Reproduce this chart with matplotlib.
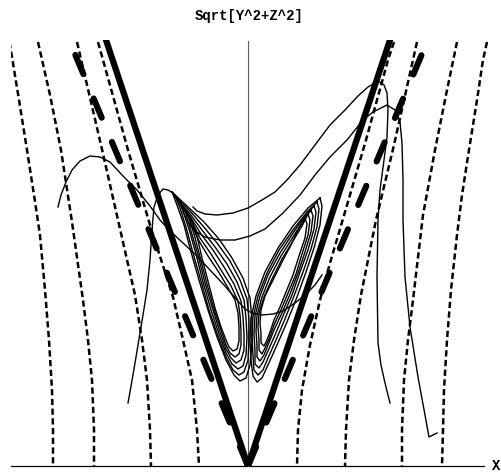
import matplotlib
matplotlib.use('Agg')
import matplotlib.pyplot as plt
from matplotlib.patches import Rectangle
import numpy as np

plt.rcParams['lines.scale_dashes'] = False

# --- data: X horizontal, R = Sqrt[Y^2+Z^2] vertical ---------------------
# thick solid and thick dashed V (vertex at origin, ends beyond plot top)
v_solid_x = [-15.0, 0.0, 15.0]
v_solid_r = [45.0, 0.0, 45.0]
v_dash_left_x = [0.0, -18.9]
v_dash_left_r = [0.0, 45.0]
v_dash_right_x = [0.0, 19.0]
v_dash_right_r = [0.0, 45.0]

# thin dashed level curves, left side (outer -> inner)
lev_l1_x = [-23.85, -23.6, -22.9, -22.1, -21.4, -20.8, -20.3, -19.9, -19.6, -19.5, -19.5]
lev_l1_r = [42.4, 40.9, 36.6, 31.6, 27.1, 23.1, 17.6, 12.6, 7.6, 3.6, 0.0]
lev_l2_x = [-21.0, -19.8, -18.7, -17.6, -16.5, -16.0, -15.6, -15.4, -15.4]
lev_l2_r = [42.4, 37.1, 31.6, 24.4, 16.6, 12.6, 8.6, 3.6, 0.0]
lev_l3_x = [-17.1, -14.7, -13.0, -11.3, -10.6, -10.1, -9.8, -9.7]
lev_l3_r = [42.4, 32.1, 24.6, 17.1, 12.6, 8.6, 3.6, 0.0]
lev_l4_x = [-15.0, -12.0, -9.8, -7.5, -6.5, -5.6, -5.1, -4.9]
lev_l4_r = [42.4, 31.6, 24.1, 16.9, 12.6, 8.6, 3.6, 0.0]
# right side (inner -> outer)
lev_r1_x = [14.6, 14.0, 11.8, 9.7, 8.2, 7.2, 6.2, 5.4, 5.0, 4.9]
lev_r1_r = [42.4, 40.6, 32.6, 25.4, 20.3, 16.6, 12.1, 7.6, 3.6, 0.0]
lev_r2_x = [16.9, 14.6, 12.8, 11.3, 10.6, 10.1, 9.8, 9.7]
lev_r2_r = [42.4, 32.1, 24.6, 17.1, 12.6, 8.6, 3.6, 0.0]
lev_r3_x = [20.9, 19.8, 18.7, 17.5, 16.5, 16.0, 15.6, 15.4, 15.4]
lev_r3_r = [42.4, 37.1, 31.6, 25.1, 16.6, 12.6, 8.6, 3.6, 0.0]
lev_r4_x = [23.9, 23.5, 22.9, 22.1, 21.4, 20.9, 20.3, 19.9, 19.6, 19.5, 19.4]
lev_r4_r = [42.4, 40.6, 36.6, 31.6, 27.1, 23.1, 17.6, 12.6, 7.6, 3.6, 0.0]

# trajectories
traj_a_x = [-19.0, -18.7, -18.2, -17.6, -16.8, -15.8, -14.8, -13.8, -12.5, -11.1, -9.8, -8.8,
            -7.8, -6.5, -5.1, -3.8, -2.4, -1.1, -0.3, 0.4, 1.4, 2.5, 3.5, 4.7, 5.7, 6.7, 7.4]
traj_a_r = [25.9, 27.1, 28.4, 29.6, 30.5, 31.0, 30.9, 30.4, 29.0, 27.6, 26.0, 24.6,
            23.5, 22.3, 21.0, 19.6, 18.1, 16.6, 15.7, 15.3, 15.1, 15.2, 15.5, 16.3, 17.1, 18.1, 19.1]
traj_b_x = [-12.0, -11.5, -11.0, -10.5, -10.1, -9.8, -9.6, -9.4, -9.0, -8.5, -8.0, -7.5, -7.0, -6.4]
traj_b_r = [6.3, 9.1, 12.1, 15.1, 17.6, 20.6, 23.6, 25.9, 27.1, 27.7, 27.6, 27.3, 26.7, 25.6]
traj_c_x = [-5.5, -5.1, -4.3, -3.1, -1.5, 0.0, 1.4, 2.7, 3.9, 5.2, 6.7, 8.2, 9.7, 11.0, 12.0,
            12.7, 13.2, 13.6, 13.9, 14.0, 13.9, 13.6, 13.2, 13.0, 12.9, 13.0, 13.3, 13.7, 14.2]
traj_c_r = [25.9, 25.5, 25.2, 25.1, 25.3, 25.8, 26.6, 27.4, 28.6, 30.1, 32.1, 34.1, 35.6, 37.0, 37.9,
            38.3, 38.4, 38.1, 37.3, 35.6, 32.9, 30.6, 27.6, 24.6, 18.9, 12.3, 10.1, 8.3, 6.3]
traj_d_x = [-6.5, -6.0, -5.3, -4.3, -2.8, -1.3, 0.2, 1.7, 3.5, 5.2, 6.7, 8.2, 9.9, 11.5, 12.5,
            13.9, 14.7, 15.2, 15.4, 15.5, 15.5, 15.7, 16.2, 17.0, 17.7, 18.1, 18.9]
traj_d_r = [25.4, 24.4, 23.5, 22.9, 22.6, 22.6, 23.0, 23.7, 25.3, 27.1, 29.1, 30.9, 32.6, 34.6, 35.4,
            36.1, 35.6, 34.4, 32.3, 28.6, 24.6, 18.9, 13.9, 8.9, 5.1, 2.9, 3.3]

# loops of the left wing (outer -> inner)
wing_l_x = [
    [-7.6, -7.1, -6.4, -5.7, -4.9, -4.0, -3.1, -2.2, -1.4, -0.8, -0.2, 0.2, 0.4, 0.4, 0.2,
     -0.5, -1.6, -2.9, -4.4, -6.0, -7.6],
    [-7.3, -6.8, -6.2, -5.5, -4.7, -3.9, -3.0, -2.2, -1.5, -0.9, -0.4, 0.0, 0.1, 0.1, -0.1,
     -0.8, -1.8, -3.1, -4.5, -5.9, -7.3],
    [-7.0, -6.5, -5.9, -5.2, -4.5, -3.7, -2.9, -2.2, -1.6, -1.0, -0.5, -0.2, -0.1, -0.2, -0.4,
     -1.1, -2.1, -3.3, -4.6, -5.8, -7.0],
    [-6.7, -6.2, -5.7, -5.0, -4.3, -3.5, -2.8, -2.2, -1.7, -1.2, -0.7, -0.4, -0.4, -0.5, -0.7,
     -1.4, -2.4, -3.5, -4.7, -5.7, -6.7],
    [-6.4, -5.9, -5.4, -4.8, -4.1, -3.4, -2.7, -2.2, -1.8, -1.3, -0.9, -0.7, -0.7, -0.8, -1.0,
     -1.7, -2.7, -3.7, -4.8, -5.6, -6.4],
    [-6.1, -5.6, -5.1, -4.6, -3.9, -3.3, -2.7, -2.2, -1.9, -1.5, -1.1, -0.9, -0.9, -1.0, -1.3,
     -2.1, -3.0, -4.0, -4.9, -5.6, -6.1],
]
wing_l_r = [
    [27.4, 26.1, 24.1, 21.4, 18.6, 15.6, 12.9, 10.6, 9.1, 8.5, 8.8, 10.1, 12.3, 14.6, 16.8,
     18.8, 20.8, 22.7, 24.4, 25.9, 27.4],
    [27.0, 25.8, 23.9, 21.3, 18.5, 15.6, 13.0, 10.9, 9.6, 9.1, 9.4, 10.6, 12.6, 14.7, 16.7,
     18.6, 20.5, 22.3, 24.0, 25.6, 27.0],
    [26.6, 25.5, 23.7, 21.2, 18.4, 15.6, 13.2, 11.3, 10.2, 9.7, 10.0, 11.1, 12.9, 14.8, 16.6,
     18.4, 20.2, 21.9, 23.6, 25.2, 26.6],
    [26.2, 25.2, 23.5, 21.1, 18.3, 15.6, 13.4, 11.7, 10.8, 10.3, 10.6, 11.6, 13.2, 14.9, 16.5,
     18.2, 19.9, 21.6, 23.2, 24.8, 26.2],
    [25.8, 24.8, 23.2, 20.9, 18.2, 15.7, 13.6, 12.1, 11.3, 10.9, 11.2, 12.1, 13.6, 15.1, 16.5,
     18.0, 19.6, 21.2, 22.8, 24.4, 25.8],
    [25.4, 24.5, 23.0, 20.8, 18.1, 15.8, 13.9, 12.6, 11.9, 11.5, 11.7, 12.5, 13.9, 15.3, 16.6,
     18.0, 19.5, 21.0, 22.5, 24.0, 25.4],
]
# loops of the right wing (outer -> inner)
wing_r_x = [
    [7.2, 7.4, 7.2, 6.6, 5.8, 4.9, 3.9, 2.9, 2.0, 1.4, 0.9, 0.5, 0.3, 0.2, 0.3, 0.8, 1.7,
     3.0, 4.5, 6.0, 7.2],
    [6.9, 7.1, 6.9, 6.3, 5.5, 4.6, 3.7, 2.8, 2.0, 1.5, 1.0, 0.6, 0.5, 0.4, 0.5, 1.0, 1.9,
     3.1, 4.5, 5.9, 6.9],
    [6.6, 6.8, 6.6, 6.0, 5.2, 4.4, 3.5, 2.7, 2.0, 1.5, 1.1, 0.7, 0.7, 0.6, 0.7, 1.2, 2.0,
     3.2, 4.5, 5.7, 6.6],
    [6.3, 6.5, 6.3, 5.7, 5.0, 4.2, 3.4, 2.6, 2.0, 1.6, 1.2, 0.9, 0.9, 0.8, 0.9, 1.4, 2.2,
     3.3, 4.5, 5.5, 6.3],
    [6.0, 6.2, 6.0, 5.4, 4.8, 4.0, 3.3, 2.6, 2.1, 1.7, 1.4, 1.1, 1.1, 1.0, 1.1, 1.6, 2.4,
     3.4, 4.5, 5.4, 6.0],
    [5.7, 5.9, 5.7, 5.1, 4.5, 3.8, 3.2, 2.6, 2.2, 1.9, 1.6, 1.3, 1.3, 1.2, 1.3, 1.7, 2.5,
     3.4, 4.3, 5.0, 5.7],
]
wing_r_r = [
    [26.8, 26.0, 24.1, 21.8, 19.4, 16.9, 14.4, 12.1, 10.1, 8.8, 8.4, 9.0, 10.6, 12.6, 14.8,
     17.0, 19.4, 21.8, 24.0, 25.8, 26.8],
    [26.4, 25.7, 23.9, 21.7, 19.4, 17.0, 14.7, 12.6, 10.8, 9.6, 9.1, 9.6, 11.0, 12.9, 14.9,
     17.0, 19.3, 21.6, 23.6, 25.4, 26.4],
    [26.0, 25.4, 23.7, 21.6, 19.4, 17.1, 15.0, 13.1, 11.5, 10.4, 9.8, 10.2, 11.5, 13.2, 15.0,
     17.0, 19.1, 21.3, 23.3, 25.0, 26.0],
    [25.6, 25.0, 23.4, 21.4, 19.3, 17.2, 15.3, 13.6, 12.1, 11.1, 10.5, 10.9, 12.1, 13.5, 15.1,
     16.9, 18.9, 21.0, 22.9, 24.5, 25.6],
    [25.2, 24.6, 23.1, 21.2, 19.2, 17.3, 15.6, 14.1, 12.7, 11.8, 11.2, 11.6, 12.6, 13.9, 15.3,
     16.9, 18.7, 20.7, 22.5, 24.0, 25.2],
    [24.8, 24.2, 22.8, 21.0, 19.1, 17.4, 15.9, 14.6, 13.4, 12.6, 12.0, 12.3, 13.2, 14.3, 15.6,
     17.0, 18.6, 20.4, 22.1, 23.6, 24.8],
]

# --- figure --------------------------------------------------------------
fig = plt.figure(figsize=(5.01, 4.75), dpi=100)
ax = fig.add_axes([0, 0, 1, 1])
ax.set_xlim(-24.8, 25.3)
ax.set_ylim(-0.9, 46.6)
ax.axis('off')

clip = Rectangle((-23.7, 0.0), 47.7, 42.6, transform=ax.transData)


def draw(x, r, **kw):
    line, = ax.plot(x, r, color='black', **kw)
    line.set_clip_path(clip)
    return line


# axes
ax.plot([-23.7, 23.6], [0, 0], color='black', lw=0.9, zorder=1)
ax.plot([0, 0], [0, 42.5], color='0.35', lw=0.8, zorder=1)
ax.text(24.4, 0.0, 'X', fontsize=10, family='Liberation Mono', weight='bold',
        ha='left', va='center')

# thin dashed level curves
thin_dash = dict(lw=1.8, dashes=(4.5, 2.5), dash_capstyle='butt', zorder=2)
for x, r in [(lev_l1_x, lev_l1_r), (lev_l2_x, lev_l2_r), (lev_l3_x, lev_l3_r),
             (lev_l4_x, lev_l4_r), (lev_r1_x, lev_r1_r), (lev_r2_x, lev_r2_r),
             (lev_r3_x, lev_r3_r), (lev_r4_x, lev_r4_r)]:
    draw(x, r, **thin_dash)

# thick V lines
draw(v_solid_x, v_solid_r, lw=4.5, solid_joinstyle='miter', zorder=3)
thick_dash = dict(lw=4.4, dashes=(15, 19), dash_capstyle='round', zorder=3)
draw(v_dash_left_x, v_dash_left_r, **thick_dash)
draw(v_dash_right_x, v_dash_right_r, **thick_dash)

# trajectories
traj = dict(lw=1.0, solid_joinstyle='round', zorder=4)
for x, r in [(traj_a_x, traj_a_r), (traj_b_x, traj_b_r),
             (traj_c_x, traj_c_r), (traj_d_x, traj_d_r)]:
    draw(x, r, **traj)
for x, r in zip(wing_l_x, wing_l_r):
    draw(x, r, **traj)
for x, r in zip(wing_r_x, wing_r_r):
    draw(x, r, **traj)

fig.text(249 / 501, 1 - 16 / 475, 'Sqrt[Y^2+Z^2]', fontsize=10,
         family='Liberation Mono', weight='bold', ha='center', va='center')

fig.savefig('out.png', dpi=100)
